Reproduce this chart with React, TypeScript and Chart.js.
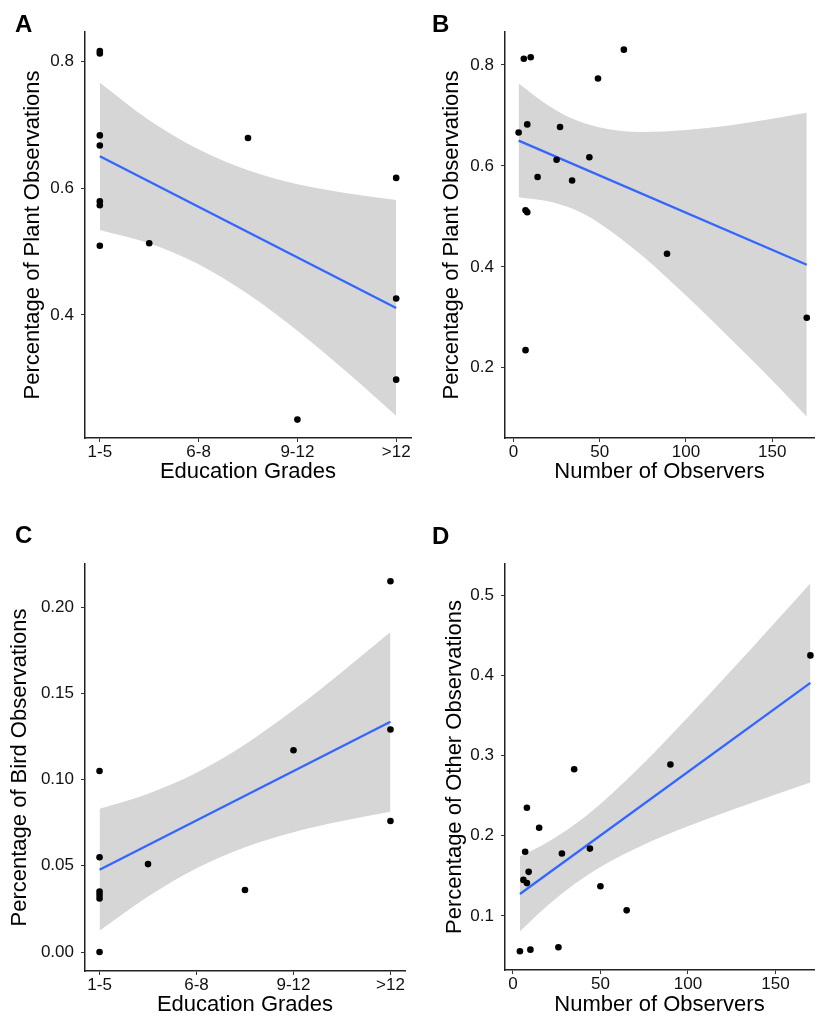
import React, { useEffect, useRef } from "react";
import { Chart, registerables } from "chart.js";

Chart.register(...registerables);

// ---------- shared ----------
const gradeLabels = ["1-5", "6-8", "9-12", ">12"];
const gradeTickValues = [1, 2, 3, 4];
const observerTickValues = [0, 50, 100, 150];

// ---------- Panel A: Plant vs Education ----------
const aX = [1, 1, 1, 1, 1, 1, 1, 1.5, 2.5, 3, 4, 4, 4];
const aY = [0.816, 0.812, 0.683, 0.667, 0.579, 0.573, 0.509, 0.513, 0.679, 0.235, 0.616, 0.426, 0.298];
const aFitX = [1, 4];
const aFitY = [0.65, 0.411];
const aBandX = [1, 1.5, 2, 2.5, 3, 3.5, 4];
const aBandLo = [0.534, 0.513, 0.48, 0.433, 0.375, 0.31, 0.241];
const aBandHi = [0.766, 0.707, 0.661, 0.628, 0.606, 0.592, 0.581];
const aYTicks = [0.4, 0.6, 0.8];

// ---------- Panel B: Plant vs Observers ----------
const bX = [3, 6, 10, 8, 64, 49, 27, 25, 44, 14, 34, 7, 8, 89, 170, 7];
const bY = [0.666, 0.812, 0.815, 0.682, 0.83, 0.773, 0.677, 0.612, 0.617, 0.578, 0.571, 0.512, 0.508, 0.426, 0.299, 0.235];
const bFitX = [3, 170];
const bFitY = [0.65, 0.404];
const bBandX = [3, 20, 35, 50, 75, 100, 125, 150, 170];
const bBandLo = [0.538, 0.53, 0.514, 0.486, 0.421, 0.343, 0.26, 0.175, 0.103];
const bBandHi = [0.763, 0.72, 0.692, 0.676, 0.667, 0.671, 0.68, 0.693, 0.705];
const bYTicks = [0.2, 0.4, 0.6, 0.8];

// ---------- Panel C: Bird vs Education ----------
const cX = [1, 1, 1, 1, 1, 1, 1.5, 2.5, 3, 4, 4, 4];
const cY = [0.0, 0.105, 0.055, 0.035, 0.033, 0.031, 0.051, 0.036, 0.117, 0.215, 0.129, 0.076];
const cFitX = [1, 4];
const cFitY = [0.0477, 0.1335];
const cBandX = [1, 1.5, 2, 2.5, 3, 3.5, 4];
const cBandLo = [0.0124, 0.0322, 0.0486, 0.0608, 0.0695, 0.076, 0.0814];
const cBandHi = [0.0831, 0.0918, 0.104, 0.1204, 0.1403, 0.1624, 0.1856];
const cYTicks = [0.0, 0.05, 0.1, 0.15, 0.2];

// ---------- Panel D: Other vs Observers ----------
const dX = [4, 10, 26, 8, 35, 15, 7, 28, 44, 9, 6, 8, 50, 65, 90, 170];
const dY = [0.056, 0.058, 0.061, 0.235, 0.283, 0.21, 0.18, 0.178, 0.184, 0.155, 0.145, 0.141, 0.137, 0.107, 0.289, 0.425];
const dFitX = [4, 170];
const dFitY = [0.1274, 0.3908];
const dBandX = [4, 20, 35, 50, 75, 100, 125, 150, 170];
const dBandLo = [0.0806, 0.1133, 0.1395, 0.1611, 0.1891, 0.2118, 0.2321, 0.2515, 0.2665];
const dBandHi = [0.1742, 0.1923, 0.2137, 0.2397, 0.2911, 0.3478, 0.4067, 0.4667, 0.5151];
const dYTicks = [0.1, 0.2, 0.3, 0.4, 0.5];

const FONT = "'Liberation Sans', Arial, Helvetica, sans-serif";
const AXIS_COLOR = "#222222";
const TEXT_COLOR = "#111111";
const RIBBON = "rgb(214,214,214)";
const FIT_BLUE = "#3366FF";

const zip = (xs: number[], ys: number[]) => xs.map((x, i) => ({ x, y: ys[i] }));

type PanelSpec = {
  xs: number[]; ys: number[];
  fitX: number[]; fitY: number[];
  bandX: number[]; bandLo: number[]; bandHi: number[];
  xMin: number; xMax: number; yMin: number; yMax: number;
  xTicks: number[]; xLabel: (v: number) => string;
  yTicks: number[]; yDecimals: number;
  xTitle: string; yTitle: string;
  padTop: number; padRight: number;
  yW: number; xH: number;
  yTitlePad: number; xTitlePad: number;
};

function buildConfig(p: PanelSpec): any {
  return {
    type: "scatter",
    data: {
      datasets: [
        {
          type: "scatter",
          data: zip(p.xs, p.ys),
          pointRadius: 3.3,
          pointBackgroundColor: "#000",
          pointBorderWidth: 0,
          order: 0,
        },
        {
          type: "line",
          data: zip(p.fitX, p.fitY),
          borderColor: FIT_BLUE,
          borderWidth: 2.3,
          pointRadius: 0,
          fill: false,
          order: 1,
        },
        {
          type: "line",
          data: zip(p.bandX, p.bandLo),
          borderWidth: 0,
          borderColor: "rgba(0,0,0,0)",
          pointRadius: 0,
          cubicInterpolationMode: "monotone",
          fill: false,
          order: 2,
        },
        {
          type: "line",
          data: zip(p.bandX, p.bandHi),
          borderWidth: 0,
          borderColor: "rgba(0,0,0,0)",
          backgroundColor: RIBBON,
          pointRadius: 0,
          cubicInterpolationMode: "monotone",
          fill: "-1",
          order: 3,
        },
      ],
    },
    options: {
      responsive: false,
      animation: false,
      events: [],
      layout: { padding: { left: 0, top: p.padTop, right: p.padRight, bottom: 0 } },
      plugins: {
        legend: { display: false },
        tooltip: { enabled: false },
        title: { display: false },
      },
      scales: {
        x: {
          type: "linear",
          min: p.xMin,
          max: p.xMax,
          afterBuildTicks: (scale: any) => {
            scale.ticks = p.xTicks.map((v) => ({ value: v }));
          },
          afterFit: (scale: any) => {
            scale.height = p.xH;
          },
          ticks: {
            callback: (v: any) => p.xLabel(Number(v)),
            color: TEXT_COLOR,
            font: { family: FONT, size: 17, lineHeight: 1.2 },
            padding: 0,
            maxRotation: 0,
            autoSkip: false,
          },
          grid: {
            display: true,
            drawOnChartArea: false,
            drawTicks: true,
            tickLength: 4,
            color: "#333",
            lineWidth: 1,
          },
          border: { display: true, color: AXIS_COLOR, width: 1.5 },
          title: {
            display: true,
            text: p.xTitle,
            color: "#000",
            font: { family: FONT, size: 22, lineHeight: 1.2 },
            padding: { top: 0, bottom: p.xTitlePad },
          },
        },
        y: {
          type: "linear",
          min: p.yMin,
          max: p.yMax,
          afterBuildTicks: (scale: any) => {
            scale.ticks = p.yTicks.map((v) => ({ value: v }));
          },
          afterFit: (scale: any) => {
            scale.width = p.yW;
          },
          ticks: {
            callback: (v: any) => Number(v).toFixed(p.yDecimals),
            color: TEXT_COLOR,
            font: { family: FONT, size: 17, lineHeight: 1.2 },
            padding: 7,
            autoSkip: false,
          },
          grid: {
            display: true,
            drawOnChartArea: false,
            drawTicks: true,
            tickLength: 4,
            color: "#333",
            lineWidth: 1,
          },
          border: { display: true, color: AXIS_COLOR, width: 1.5 },
          title: {
            display: true,
            text: p.yTitle,
            color: "#000",
            font: { family: FONT, size: 22, lineHeight: 1.2 },
            padding: { top: p.yTitlePad, bottom: 0 },
          },
        },
      },
    },
  };
}

function ChartPanel(props: { left: number; top: number; width: number; height: number; spec: PanelSpec }) {
  const ref = useRef<HTMLCanvasElement | null>(null);
  useEffect(() => {
    if (!ref.current) return;
    const chart = new Chart(ref.current, buildConfig(props.spec));
    return () => chart.destroy();
  }, []);
  return (
    <canvas
      ref={ref}
      width={props.width}
      height={props.height}
      style={{
        position: "absolute",
        left: props.left,
        top: props.top,
        width: props.width,
        height: props.height,
        display: "block",
      }}
    />
  );
}

const gradeLabel = (v: number) => {
  const i = gradeTickValues.indexOf(v);
  return i >= 0 ? gradeLabels[i] : "";
};
const numLabel = (v: number) => String(v);

const specA: PanelSpec = {
  xs: aX, ys: aY, fitX: aFitX, fitY: aFitY, bandX: aBandX, bandLo: aBandLo, bandHi: aBandHi,
  xMin: 0.85, xMax: 4.15, yMin: 0.206, yMax: 0.846,
  xTicks: gradeTickValues, xLabel: gradeLabel, yTicks: aYTicks, yDecimals: 1,
  xTitle: "Education Grades", yTitle: "Percentage of Plant Observations",
  padTop: 32, padRight: 9, yW: 85, xH: 62, yTitlePad: 20, xTitlePad: 15,
};

const specB: PanelSpec = {
  xs: bX, ys: bY, fitX: bFitX, fitY: bFitY, bandX: bBandX, bandLo: bBandLo, bandHi: bBandHi,
  xMin: -4.9, xMax: 174.2, yMin: 0.061, yMax: 0.865,
  xTicks: observerTickValues, xLabel: numLabel, yTicks: bYTicks, yDecimals: 1,
  xTitle: "Number of Observers", yTitle: "Percentage of Plant Observations",
  padTop: 32, padRight: 0, yW: 96, xH: 62, yTitlePad: 30, xTitlePad: 15,
};

const specC: PanelSpec = {
  xs: cX, ys: cY, fitX: cFitX, fitY: cFitY, bandX: cBandX, bandLo: cBandLo, bandHi: cBandHi,
  xMin: 0.85, xMax: 4.15, yMin: -0.011, yMax: 0.225,
  xTicks: gradeTickValues, xLabel: gradeLabel, yTicks: cYTicks, yDecimals: 2,
  xTitle: "Education Grades", yTitle: "Percentage of Bird Observations",
  padTop: 64, padRight: 15, yW: 85, xH: 48, yTitlePad: 7, xTitlePad: 1,
};

const specD: PanelSpec = {
  xs: dX, ys: dY, fitX: dFitX, fitY: dFitY, bandX: dBandX, bandLo: dBandLo, bandHi: dBandHi,
  xMin: -4.52, xMax: 172.05, yMin: 0.0326, yMax: 0.539,
  xTicks: observerTickValues, xLabel: numLabel, yTicks: dYTicks, yDecimals: 1,
  xTitle: "Number of Observers", yTitle: "Percentage of Other Observations",
  padTop: 64, padRight: 0, yW: 96, xH: 49, yTitlePad: 33, xTitlePad: 1,
};

const letterStyle = (left: number, top: number): React.CSSProperties => ({
  position: "absolute",
  left,
  top,
  fontFamily: FONT,
  fontWeight: "bold",
  fontSize: 24,
  lineHeight: "24px",
  color: "#000",
});

export default function App() {
  return (
    <div
      style={{
        position: "absolute",
        left: 0,
        top: 0,
        width: 818,
        height: 1019,
        background: "#fff",
        overflow: "hidden",
      }}
    >
      <ChartPanel left={0} top={0} width={420} height={500} spec={specA} />
      <ChartPanel left={409} top={0} width={409} height={500} spec={specB} />
      <ChartPanel left={0} top={500} width={420} height={519} spec={specC} />
      <ChartPanel left={409} top={500} width={409} height={519} spec={specD} />
      <div style={letterStyle(15, 12)}>A</div>
      <div style={letterStyle(432, 12)}>B</div>
      <div style={letterStyle(15, 523)}>C</div>
      <div style={letterStyle(432, 524)}>D</div>
    </div>
  );
}
